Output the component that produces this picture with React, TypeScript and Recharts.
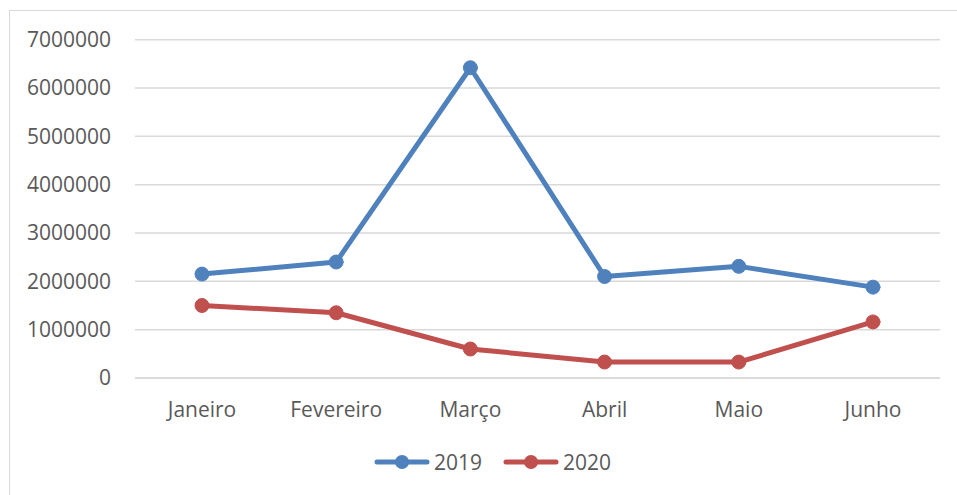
import React from 'react';
import { LineChart, Line, XAxis, YAxis, CartesianGrid, Legend } from 'recharts';

// dados
const categories = ['Janeiro', 'Fevereiro', 'Março', 'Abril', 'Maio', 'Junho'];
const values2019 = [2150000, 2400000, 6420000, 2100000, 2310000, 1880000];
const values2020 = [1500000, 1350000, 600000, 330000, 330000, 1160000];
const yTicks = [0, 1000000, 2000000, 3000000, 4000000, 5000000, 6000000, 7000000];

const series = [
  { key: 'y2019', name: '2019', color: '#4F81BD' },
  { key: 'y2020', name: '2020', color: '#C0504D' },
];

const data = categories.map((month, i) => ({
  month,
  y2019: values2019[i],
  y2020: values2020[i],
}));

const FONT = '"Open Sans", "Noto Sans", sans-serif';
const TEXT = '#595959';
const GRID = '#d9d9d9';

const LegendContent = () => (
  <div
    style={{
      height: 60,
      display: 'flex',
      justifyContent: 'center',
      alignItems: 'center',
      paddingTop: 2,
      paddingLeft: 35,
      boxSizing: 'border-box',
      fontFamily: FONT,
      fontSize: 21,
      color: TEXT,
    }}
  >
    {series.map((s, i) => (
      <div key={s.key} style={{ display: 'flex', alignItems: 'center', marginLeft: i === 0 ? 0 : 21 }}>
        <svg width={56} height={20} style={{ marginRight: 4 }}>
          <line x1={3} y1={10} x2={53} y2={10} stroke={s.color} strokeWidth={5} strokeLinecap="round" />
          <circle cx={28} cy={10} r={7} fill={s.color} />
        </svg>
        <span>{s.name}</span>
      </div>
    ))}
  </div>
);

export default function App() {
  return (
    <div style={{ position: 'absolute', left: 0, top: 0, width: 957, height: 495, overflow: 'hidden', background: '#fff' }}>
      <div
        style={{
          position: 'absolute',
          left: 9,
          top: 10,
          width: 1000,
          height: 600,
          border: `1px solid ${GRID}`,
        }}
      >
        <LineChart
          width={965}
          height={480}
          data={data}
          margin={{ top: 28.7, right: 35, bottom: 0, left: 0 }}
          style={{ fontFamily: FONT }}
        >
          <CartesianGrid vertical={false} stroke={GRID} strokeWidth={1.5} />
          <XAxis
            dataKey="month"
            height={53}
            padding={{ left: 67, right: 67 }}
            tickLine={false}
            tickSize={0}
            tickMargin={24}
            axisLine={{ stroke: GRID, strokeWidth: 1.5 }}
            tick={{ fill: TEXT, fontSize: 21, fontFamily: FONT }}
          />
          <YAxis
            width={125}
            domain={[0, 7000000]}
            ticks={yTicks}
            interval={0}
            tickLine={false}
            axisLine={false}
            tickSize={0}
            tickMargin={24}
            tick={{ fill: TEXT, fontSize: 21, fontFamily: FONT }}
          />
          <Legend verticalAlign="bottom" content={<LegendContent />} />
          {series.map((s) => (
            <Line
              key={s.key}
              type="linear"
              dataKey={s.key}
              name={s.name}
              stroke={s.color}
              strokeWidth={5}
              strokeLinejoin="round"
              strokeLinecap="round"
              dot={{ r: 7, fill: s.color, stroke: s.color, strokeWidth: 1 }}
              activeDot={false}
              isAnimationActive={false}
            />
          ))}
        </LineChart>
      </div>
    </div>
  );
}
